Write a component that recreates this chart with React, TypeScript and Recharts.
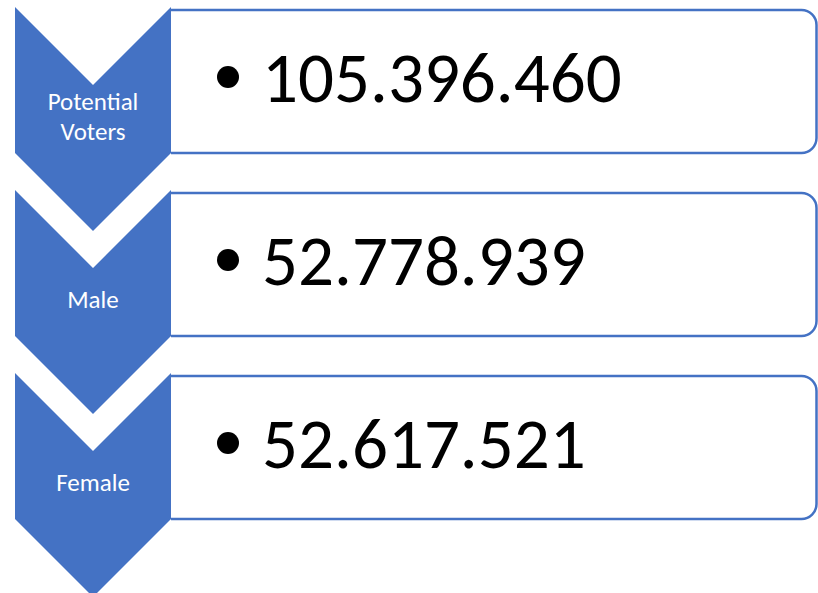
import { BarChart, Bar, XAxis, YAxis } from "recharts";

const labels = ["Potential Voters", "Male", "Female"];
const values = [105396460, 52778939, 52617521];

const rows = labels.map((label, i) => ({ label, value: values[i] }));

const BLUE = "#4472C4";
const FONT = "Carlito, Calibri, Lato, 'Open Sans', sans-serif";

// group thousands with dots, as in the source
const fmt = (v: number) => String(v).replace(/\B(?=(\d{3})+(?!\d))/g, ".");

// rough Calibri advance widths so the number keeps its width
const textWidth = (s: string, em: number) =>
  s.split("").reduce((w, c) => w + (c === "." ? 0.252 : 0.507), 0) * em;

function RowShape(props: any) {
  const { x, y, payload } = props;
  const chevW = 156;
  const half = chevW / 2;
  const side = 146;
  const boxL = x + chevW;
  const boxR = 816.5;
  const top = y + 3;
  const bottom = y + 146;
  const r = 15;
  const text = fmt(payload.value);
  const words = String(payload.label).split(" ");
  const cx = x + half;

  return (
    <g>
      <path
        d={`M${boxL},${top} H${boxR - r} A${r},${r} 0 0 1 ${boxR},${top + r} V${bottom - r} A${r},${r} 0 0 1 ${boxR - r},${bottom} H${boxL}`}
        fill="#fff"
        stroke={BLUE}
        strokeWidth={2.5}
      />
      <polygon
        points={`${x},${y} ${cx},${y + half} ${x + chevW},${y} ${x + chevW},${y + side} ${cx},${y + side + half} ${x},${y + side}`}
        fill={BLUE}
      />
      {words.length > 1 ? (
        words.map((w, i) => (
          <text
            key={w}
            x={cx}
            y={y + 103 + i * 30}
            textAnchor="middle"
            fill="#fff"
            fontSize={25}
            fontFamily={FONT}
          >
            {w}
          </text>
        ))
      ) : (
        <text x={cx} y={y + 118} textAnchor="middle" fill="#fff" fontSize={25} fontFamily={FONT}>
          {words[0]}
        </text>
      )}
      <circle cx={228} cy={y + 70} r={11} fill="#000" />
      <text
        x={262}
        y={y + 95}
        fontSize={71}
        fontFamily={FONT}
        fill="#000"
        textLength={textWidth(text, 71)}
        lengthAdjust="spacingAndGlyphs"
      >
        {text}
      </text>
    </g>
  );
}

export default function App() {
  return (
    <div style={{ position: "absolute", left: 0, top: 0, width: 818, height: 593, background: "#fff" }}>
      <BarChart
        width={818}
        height={593}
        data={rows}
        layout="vertical"
        margin={{ top: 7, right: 0, bottom: 37, left: 15 }}
        barCategoryGap={0}
      >
        <XAxis type="number" hide domain={[0, "dataMax"]} />
        <YAxis type="category" dataKey="label" hide />
        <Bar dataKey="value" isAnimationActive={false} shape={<RowShape />} />
      </BarChart>
    </div>
  );
}
